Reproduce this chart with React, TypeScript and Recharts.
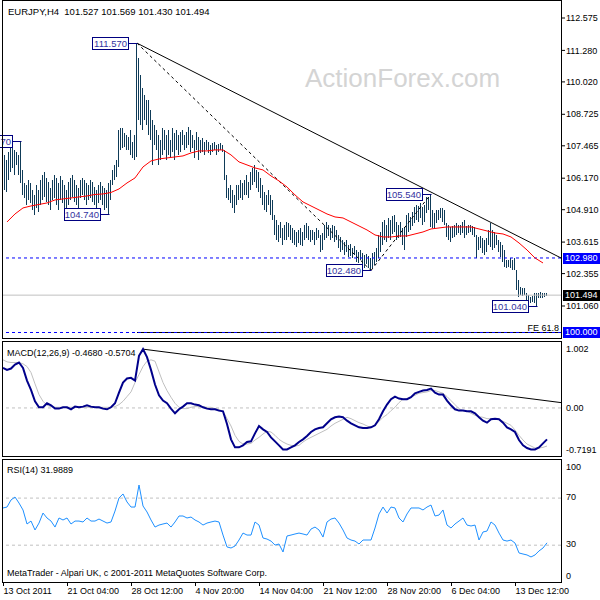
import React from "react";
import { ComposedChart, Bar, Line, XAxis, YAxis, ReferenceLine, ReferenceDot } from "recharts";

const FONT = '"Liberation Sans", Arial, sans-serif';
const BAR_COLOR = "#0f3b58";
const NAVY = "#000080";

// bar index of each time label (H4 bars, 2px apart in the picture)
const timeTicks = [0, 32, 64, 96, 128, 160, 192, 224, 256];
const timeLabels = [
  "13 Oct 2011", "21 Oct 04:00", "28 Oct 12:00", "4 Nov 20:00", "14 Nov 04:00",
  "21 Nov 12:00", "28 Nov 20:00", "6 Dec 04:00", "13 Dec 12:00",
];

// EURJPY H4 bar highs / lows
const highs = [
  107.30, 107.10, 106.90, 107.22, 107.38, 107.50, 107.30, 107.22, 107.10, 107.67,
  106.50, 105.98, 105.90, 106.10, 105.98, 105.70, 105.50, 105.90, 105.70, 106.10,
  106.30, 106.42, 106.18, 106.02, 105.78, 106.10, 106.30, 106.18, 105.98, 106.26,
  106.10, 105.90, 105.70, 106.02, 106.18, 106.30, 106.10, 105.90, 105.78, 106.10,
  106.18, 106.10, 105.98, 105.90, 106.10, 106.02, 105.82, 105.70, 105.90, 106.02,
  105.86, 105.78, 105.70, 105.98, 106.10, 106.50, 106.70, 106.90, 108.10, 108.18,
  108.18, 107.98, 107.90, 107.82, 108.10, 107.62, 107.90, 111.57, 110.98, 110.30,
  109.78, 109.50, 109.30, 109.30, 108.90, 108.50, 108.30, 108.10, 107.90, 107.70,
  108.18, 108.10, 107.90, 108.10, 107.70, 108.18, 107.98, 108.10, 107.90, 108.02,
  108.10, 107.90, 108.02, 108.22, 108.10, 107.90, 107.70, 108.02, 107.82, 107.70,
  107.78, 107.62, 107.70, 107.62, 107.50, 107.58, 107.62, 107.50, 107.54, 107.58,
  107.50, 107.30, 106.30, 105.78, 105.90, 105.70, 105.50, 105.90, 105.90, 106.10,
  105.98, 106.10, 106.30, 106.02, 106.42, 106.58, 106.70, 106.50, 106.42, 106.18,
  105.90, 105.62, 105.50, 105.70, 105.50, 105.30, 104.70, 104.50, 104.30, 104.42,
  104.18, 104.30, 104.42, 104.38, 104.30, 104.18, 104.10, 104.02, 104.10, 104.18,
  104.02, 104.30, 104.38, 104.26, 104.10, 104.10, 104.02, 104.18, 104.10, 103.90,
  103.98, 104.30, 104.42, 104.30, 104.18, 104.30, 104.26, 104.10, 103.90, 103.82,
  103.70, 103.62, 103.70, 103.50, 103.54, 103.38, 103.46, 103.30, 103.22, 103.30,
  103.18, 103.10, 103.14, 103.06, 102.98, 103.18, 103.22, 103.38, 103.90, 104.02,
  104.42, 104.50, 104.30, 104.58, 104.50, 104.66, 104.70, 104.42, 104.30, 104.42,
  104.18, 104.22, 104.70, 104.78, 104.62, 104.82, 105.02, 105.10, 105.06, 105.18,
  105.02, 105.10, 105.42, 105.40, 105.54, 104.90, 104.78, 104.90, 104.90, 104.98,
  104.98, 104.90, 104.38, 104.30, 104.22, 104.26, 104.30, 104.38, 104.30, 104.30,
  104.42, 104.50, 104.26, 104.30, 104.30, 104.26, 104.22, 103.90, 103.82, 103.86,
  103.78, 103.70, 103.78, 104.10, 104.36, 104.10, 104.02, 103.90, 103.70, 103.62,
  103.50, 103.30, 102.90, 102.90, 102.98, 102.90, 102.98, 102.50, 102.10, 101.82,
  101.78, 101.78, 101.58, 101.50, 101.42, 101.46, 101.58, 101.58, 101.58, 101.62,
  101.58, 101.58, 101.569,
];
const lows = [
  105.90, 105.70, 105.62, 106.10, 106.42, 106.58, 106.30, 106.70, 106.30, 105.98,
  105.50, 105.38, 105.10, 105.30, 105.18, 104.90, 104.70, 104.98, 104.82, 105.10,
  105.30, 105.42, 105.22, 105.10, 104.90, 105.30, 105.38, 105.10, 104.90, 105.30,
  105.18, 104.90, 104.82, 105.10, 105.30, 105.42, 105.22, 105.10, 104.90, 105.38,
  105.50, 105.30, 105.10, 105.30, 105.38, 105.22, 105.10, 104.98, 105.18, 105.30,
  105.10, 104.90, 104.98, 104.74, 105.30, 105.90, 106.10, 106.22, 106.62, 107.30,
  107.38, 107.42, 107.30, 107.30, 107.10, 106.98, 106.90, 107.02, 108.50, 108.30,
  108.10, 108.50, 108.30, 107.90, 107.70, 106.70, 107.50, 107.30, 106.70, 106.90,
  107.10, 107.30, 106.90, 107.10, 106.98, 107.22, 106.90, 107.30, 107.10, 107.22,
  107.50, 107.30, 107.38, 107.50, 107.22, 107.38, 106.98, 107.30, 106.90, 107.18,
  107.22, 107.10, 107.30, 107.18, 107.10, 107.22, 107.30, 107.10, 107.22, 107.30,
  107.22, 106.10, 105.38, 105.30, 105.18, 104.98, 104.78, 105.10, 105.30, 105.38,
  105.30, 105.50, 105.50, 105.38, 105.70, 105.90, 106.02, 105.78, 105.62, 105.38,
  105.10, 104.90, 104.82, 105.10, 104.70, 104.50, 103.90, 103.70, 103.62, 103.78,
  103.50, 103.70, 103.70, 103.82, 103.70, 103.58, 103.50, 103.42, 103.58, 103.50,
  103.46, 103.70, 103.78, 103.70, 103.62, 103.70, 103.50, 103.70, 103.78, 103.22,
  103.30, 103.70, 103.78, 103.86, 103.70, 103.78, 103.62, 103.70, 103.38, 103.22,
  103.30, 103.10, 103.22, 103.02, 103.06, 102.98, 103.10, 102.82, 102.78, 102.90,
  102.70, 102.58, 102.74, 102.58, 102.48, 102.58, 102.70, 102.82, 102.98, 103.22,
  103.50, 103.70, 103.62, 103.78, 103.70, 103.94, 104.02, 103.70, 103.78, 103.82,
  103.50, 103.30, 103.82, 104.02, 104.10, 104.26, 104.38, 104.50, 104.42, 104.58,
  104.30, 104.42, 104.78, 104.90, 104.22, 104.18, 104.18, 104.38, 104.50, 104.58,
  104.42, 104.30, 103.82, 103.70, 103.62, 103.78, 103.82, 103.90, 103.98, 103.90,
  103.98, 103.78, 103.90, 103.98, 104.02, 103.90, 103.82, 102.98, 103.30, 103.38,
  103.18, 103.10, 103.22, 103.50, 103.42, 103.30, 103.38, 103.50, 103.22, 103.02,
  102.82, 102.62, 102.58, 102.62, 102.58, 102.50, 102.50, 101.70, 101.42, 101.50,
  101.46, 101.50, 101.30, 101.18, 101.18, 101.22, 101.18, 101.04, 101.38, 101.38,
  101.38, 101.42, 101.43,
];

// moving average, one value every 4th bar starting at bar 2
const maValues = [
  104.42, 104.74, 104.98, 105.06, 105.12, 105.18, 105.30, 105.34, 105.38, 105.42,
  105.46, 105.52, 105.54, 105.60, 105.74, 105.98, 106.18, 106.62, 106.86, 106.94,
  106.98, 107.02, 107.06, 107.18, 107.26, 107.26, 107.30, 107.30, 107.10, 106.82,
  106.70, 106.58, 106.50, 106.26, 106.06, 105.82, 105.50, 105.22, 105.06, 104.90,
  104.74, 104.62, 104.58, 104.42, 104.26, 104.10, 103.90, 103.82, 103.82, 103.86,
  103.86, 103.94, 104.02, 104.14, 104.18, 104.22, 104.22, 104.22, 104.22, 104.14,
  104.06, 103.98, 103.94, 103.82, 103.58, 103.30, 102.98, 102.78,
];

// oscillators, one value every 2nd bar
const macdValues = [
  0.60, 0.57, 0.59, 0.65, 0.68, 0.60, 0.41, 0.27, 0.10, 0.01,
  0.01, 0.07, 0.04, -0.01, -0.01, 0.01, 0.01, -0.02, 0.02, 0.01,
  0.02, 0.04, 0.02, 0.01, 0.01, -0.01, -0.02, 0.01, 0.07, 0.23,
  0.38, 0.44, 0.45, 0.41, 0.78, 0.88, 0.76, 0.57, 0.35, 0.19,
  0.11, 0.07, -0.01, -0.08, -0.02, 0.02, 0.07, 0.07, 0.05, 0.04,
  0.01, -0.01, -0.02, -0.02, -0.04, -0.05, -0.24, -0.47, -0.59, -0.59,
  -0.56, -0.51, -0.50, -0.38, -0.27, -0.32, -0.36, -0.44, -0.50, -0.56,
  -0.62, -0.62, -0.59, -0.56, -0.51, -0.47, -0.42, -0.36, -0.32, -0.30,
  -0.29, -0.23, -0.17, -0.14, -0.13, -0.14, -0.19, -0.23, -0.26, -0.29,
  -0.30, -0.30, -0.29, -0.26, -0.17, -0.05, 0.05, 0.13, 0.17, 0.14,
  0.13, 0.13, 0.16, 0.22, 0.24, 0.26, 0.27, 0.29, 0.23, 0.20,
  0.20, 0.11, 0.04, -0.02, -0.04, -0.04, -0.05, -0.05, -0.08, -0.14,
  -0.19, -0.22, -0.17, -0.16, -0.17, -0.22, -0.29, -0.32, -0.36, -0.48,
  -0.56, -0.60, -0.62, -0.62, -0.59, -0.53, -0.47,
];
const signalValues = [
  0.72, 0.69, 0.68, 0.68, 0.68, 0.66, 0.62, 0.53, 0.36, 0.20,
  0.10, 0.04, 0.02, 0.01, 0.01, 0.01, 0.01, 0.01, 0.01, 0.01,
  0.01, 0.01, 0.01, 0.01, 0.01, 0.01, 0.01, 0.01, 0.02, 0.05,
  0.10, 0.17, 0.24, 0.38, 0.50, 0.62, 0.70, 0.72, 0.70, 0.54,
  0.38, 0.26, 0.16, 0.07, 0.01, -0.01, -0.01, 0.01, 0.02, 0.02,
  0.02, 0.01, 0.01, -0.01, -0.02, -0.05, -0.16, -0.27, -0.41, -0.50,
  -0.54, -0.54, -0.53, -0.48, -0.44, -0.39, -0.35, -0.36, -0.41, -0.47,
  -0.51, -0.54, -0.56, -0.57, -0.56, -0.51, -0.47, -0.44, -0.41, -0.38,
  -0.35, -0.32, -0.27, -0.23, -0.20, -0.17, -0.14, -0.16, -0.19, -0.22,
  -0.24, -0.27, -0.29, -0.26, -0.20, -0.14, -0.10, -0.04, 0.01, 0.08,
  0.13, 0.14, 0.16, 0.19, 0.22, 0.23, 0.24, 0.26, 0.26, 0.24,
  0.22, 0.17, 0.11, 0.05, -0.01, -0.04, -0.05, -0.08, -0.11, -0.13,
  -0.14, -0.16, -0.16, -0.17, -0.17, -0.20, -0.23, -0.26, -0.33, -0.41,
  -0.48, -0.54, -0.57, -0.60, -0.60, -0.59, -0.57,
];
const rsiValues = [
  61.6, 62.4, 68.4, 70.9, 65.8, 59.9, 48.0, 50.5, 42.9, 48.8,
  57.3, 53.1, 50.5, 45.4, 53.1, 51.4, 53.1, 48.0, 50.5, 50.5,
  49.7, 53.1, 50.5, 50.5, 52.2, 50.5, 48.8, 49.7, 59.0, 70.1,
  73.5, 66.7, 62.4, 62.4, 81.1, 63.3, 58.2, 51.4, 45.4, 47.1,
  48.0, 48.8, 45.4, 49.7, 54.8, 54.8, 53.1, 53.9, 51.4, 49.7,
  47.1, 48.8, 49.7, 50.5, 49.7, 38.6, 28.5, 27.6, 29.3, 34.4,
  40.3, 38.6, 38.6, 49.7, 47.1, 36.1, 35.2, 33.5, 30.1, 31.0,
  24.2, 37.8, 38.6, 39.5, 40.3, 39.5, 38.6, 43.7, 45.4, 42.9,
  36.9, 49.7, 52.2, 53.1, 48.8, 42.9, 36.1, 34.4, 33.5, 31.0,
  34.4, 34.4, 34.4, 44.6, 56.5, 62.4, 57.3, 62.4, 61.6, 53.1,
  49.7, 56.5, 61.6, 61.6, 61.6, 59.9, 62.4, 64.1, 54.8, 55.6,
  59.9, 47.1, 44.6, 48.0, 50.5, 53.1, 47.1, 46.3, 47.1, 34.4,
  41.2, 42.0, 49.7, 47.1, 40.3, 34.4, 33.5, 34.4, 31.8, 23.4,
  22.5, 21.7, 20.0, 21.7, 25.1, 27.6, 32.0,
];

const priceTicks = [101.06, 102.355, 103.615, 104.91, 106.17, 107.465, 108.725, 110.02, 111.28, 112.575];
const macdTicks = [1.002, 0, -0.7191];
const macdTickLabels = ["1.002", "0.00", "-0.7191"];
const rsiTicks = [100, 70, 30, 0];

// swing highs/lows that carry a price tag
const markedBars = [9, 53, 67, 184, 214, 267];
const markedPrices = [107.67, 104.74, 111.57, 102.48, 105.54, 101.04];

const supportLevel = 102.98;
const bidPrice = 101.494;
const feLevel = 100.0;
const trendStart = { x: 67, y: 111.57 };
const trendEnd = { x: 279, y: 102.98 };
const swingLow = { x: 184, y: 102.48 };
const swingHigh = { x: 214, y: 105.54 };
const macdTrend = [{ x: 70, y: 0.88 }, { x: 279, y: 0.08 }];

const X_DOMAIN: [number, number] = [-0.5, 279];

const mainRows = highs.map((high, i) => ({
  i,
  high,
  low: lows[i],
  ma: i >= 2 && (i - 2) % 4 === 0 ? maValues[(i - 2) / 4] : undefined,
}));
const oscRows = macdValues.map((macd, k) => ({
  i: k * 2,
  macd,
  signal: signalValues[k],
  rsi: rsiValues[k],
}));

const HLBar = (p: any) => {
  if (p.x == null || p.y == null) return null;
  const x = Math.round(p.x + p.width / 2 - 0.5);
  return <rect x={x} y={Math.round(p.y)} width={1} height={Math.max(1, Math.round(p.height))} fill={BAR_COLOR} />;
};

const priceTag = (text: string) => (p: any) => {
  const cx = Math.round(p.cx) + 0.5;
  const cy = Math.round(p.cy) + 0.5;
  const w = 36;
  const right = cx - 9;
  // a tag running off the left edge only shows the characters that fit
  const room = Math.floor((right - 1) / 4.6);
  const shown = right - w < 0 ? text.slice(-room) : text;
  return (
    <g>
      <line x1={right} y1={cy} x2={cx} y2={cy} stroke={NAVY} />
      <rect x={right - w} y={cy - 6} width={w} height={12} fill="#fff" stroke={NAVY} />
      <text x={right - 1.5} y={cy} dy="0.35em" textAnchor="end" fontSize={9.5} fontFamily={FONT} fill="#3333a0">
        {shown}
      </text>
    </g>
  );
};

const axisTag = (text: string, fill: string) => (props: any) => {
  const vb = props.viewBox || {};
  const x = vb.x + vb.width + 2;
  const y = Math.round(vb.y);
  return (
    <g>
      <rect x={x} y={y - 5} width={38} height={11} fill={fill} />
      <text x={x + 2} y={y} dy="0.35em" fontSize={9} fill="#fff" fontFamily={FONT}>{text}</text>
    </g>
  );
};

const feTag = (props: any) => {
  const vb = props.viewBox || {};
  return (
    <g>
      <text x={vb.x + vb.width - 2} y={vb.y - 5} dy="0.35em" textAnchor="end" fontSize={9} fontFamily={FONT} fill="#000">
        FE 61.8
      </text>
      {axisTag("100.000", "#0000ff")(props)}
    </g>
  );
};

const MacdTick = (p: any) => {
  const v = p.payload.value;
  const idx = macdTicks.indexOf(v);
  const dy = idx === 0 ? 8 : idx === 2 ? -6 : 0;
  return (
    <text x={p.x} y={p.y + dy} dy="0.35em" fontSize={9} fontFamily={FONT} fill="#000">
      {macdTickLabels[idx]}
    </text>
  );
};

const RsiTick = (p: any) => {
  const v = p.payload.value;
  const dy = v === 100 ? 4 : v === 0 ? -5 : -1;
  return (
    <text x={p.x} y={p.y + dy} dy="0.35em" fontSize={9} fontFamily={FONT} fill="#000">
      {v}
    </text>
  );
};

const TimeTick = (p: any) => {
  const label = timeLabels[timeTicks.indexOf(p.payload.value)];
  const x = Math.round(p.x) + 0.5;
  return (
    <g>
      <line x1={x} x2={x} y1={p.y} y2={p.y + 4} stroke="#000" />
      <text x={x} y={p.y + 9} dy="0.35em" fontSize={9} fontFamily={FONT} fill="#000">{label}</text>
    </g>
  );
};

const frame = (top: number, height: number): React.CSSProperties => ({
  position: "absolute",
  left: 2,
  top,
  width: 560,
  height,
  border: "1px solid #000",
  boxSizing: "border-box",
  pointerEvents: "none",
});

const caption = (left: number, top: number, size: number): React.CSSProperties => ({
  position: "absolute",
  left,
  top,
  fontSize: size,
  lineHeight: "12px",
  fontFamily: FONT,
  whiteSpace: "pre",
  color: "#000",
});

export default function App() {
  return (
    <div style={{ position: "absolute", left: 0, top: 0, width: 600, height: 600, background: "#fff", overflow: "hidden" }}>
      <div style={{ position: "absolute", left: 305, top: 63, fontSize: 26, lineHeight: "30px", fontFamily: FONT, color: "#d4d4d4" }}>
        ActionForex.com
      </div>

      <div style={{ position: "absolute", left: 0, top: 0 }}>
        <ComposedChart width={600} height={339} data={mainRows} margin={{ top: 0, right: 0, bottom: 1, left: 2 }}>
          <XAxis dataKey="i" type="number" domain={X_DOMAIN} allowDataOverflow hide />
          <YAxis
            orientation="right"
            width={39}
            domain={[99.78, 113.295]}
            allowDataOverflow
            ticks={priceTicks}
            interval={0}
            axisLine={false}
            tickSize={4}
            tickMargin={1}
            tickLine={{ stroke: "#000" }}
            tick={{ fontSize: 9, fill: "#000", fontFamily: FONT }}
            tickFormatter={(v: number) => v.toFixed(3)}
          />
          <ReferenceLine y={bidPrice} stroke="#c0c0c0" label={axisTag(bidPrice.toFixed(3), "#000")} />
          <ReferenceLine y={supportLevel} stroke="#0000ff" strokeDasharray="3 3" label={axisTag(supportLevel.toFixed(3), "#0000ff")} />
          <ReferenceLine segment={[{ x: trendStart.x, y: feLevel }, { x: trendEnd.x, y: feLevel }]} stroke="#000" />
          <ReferenceLine y={feLevel} stroke="#0000ff" strokeDasharray="3 3" label={feTag} />
          <ReferenceLine segment={[trendStart, trendEnd]} stroke="#000" />
          <ReferenceLine segment={[trendStart, swingLow]} stroke="#000" strokeDasharray="3 3" />
          <ReferenceLine segment={[swingLow, swingHigh]} stroke="#000" strokeDasharray="3 3" />
          <Bar dataKey={(d: any) => [d.low, d.high]} barSize={1} shape={HLBar} isAnimationActive={false} />
          <Line dataKey="ma" stroke="#ff0000" strokeWidth={1} dot={false} connectNulls isAnimationActive={false} />
          {markedBars.map((bar, k) => (
            <ReferenceDot key={bar} x={bar} y={markedPrices[k]} r={0} shape={priceTag(markedPrices[k].toFixed(3))} />
          ))}
        </ComposedChart>
      </div>

      <div style={{ position: "absolute", left: 0, top: 341 }}>
        <ComposedChart width={600} height={116} data={oscRows} margin={{ top: 0, right: 0, bottom: 1, left: 2 }}>
          <XAxis dataKey="i" type="number" domain={X_DOMAIN} allowDataOverflow hide />
          <YAxis
            orientation="right"
            width={39}
            domain={[-0.7191, 1.002]}
            allowDataOverflow
            ticks={macdTicks}
            interval={0}
            axisLine={false}
            tickLine={false}
            tickSize={4}
            tickMargin={1}
            tick={MacdTick}
          />
          <ReferenceLine y={0} stroke="#c0c0c0" strokeDasharray="3 3" />
          <ReferenceLine segment={macdTrend} stroke="#000" />
          <Line dataKey="signal" stroke="#c0c0c0" strokeWidth={1} dot={false} isAnimationActive={false} />
          <Line dataKey="macd" stroke="#00008b" strokeWidth={2} dot={false} isAnimationActive={false} />
        </ComposedChart>
      </div>

      <div style={{ position: "absolute", left: 0, top: 459 }}>
        <ComposedChart width={600} height={141} data={oscRows} margin={{ top: 0, right: 0, bottom: 0, left: 2 }}>
          <XAxis
            dataKey="i"
            type="number"
            domain={X_DOMAIN}
            allowDataOverflow
            ticks={timeTicks}
            interval={0}
            height={18}
            axisLine={false}
            tickLine={false}
            tickSize={0}
            tickMargin={0}
            tick={TimeTick}
          />
          <YAxis
            orientation="right"
            width={39}
            domain={[-1.27, 103.2]}
            allowDataOverflow
            ticks={rsiTicks}
            interval={0}
            axisLine={false}
            tickLine={false}
            tickSize={4}
            tickMargin={1}
            tick={RsiTick}
          />
          <ReferenceLine y={70} stroke="#c0c0c0" strokeDasharray="3 3" />
          <ReferenceLine y={30} stroke="#c0c0c0" strokeDasharray="3 3" />
          <Line dataKey="rsi" stroke="#1e90ff" strokeWidth={1} dot={false} isAnimationActive={false} />
        </ComposedChart>
      </div>

      <div style={frame(0, 339)} />
      <div style={frame(341, 116)} />
      <div style={frame(459, 124)} />

      <div style={caption(8, 6, 9.5)}>{"EURJPY,H4  101.527 101.569 101.430 101.494"}</div>
      <div style={caption(7, 347, 9)}>{"MACD(12,26,9) -0.4680 -0.5704"}</div>
      <div style={caption(7, 464, 9)}>{"RSI(14) 31.9889"}</div>
      <div style={caption(7, 567, 9)}>{"MetaTrader - Alpari UK, c 2001-2011 MetaQuotes Software Corp."}</div>
    </div>
  );
}
